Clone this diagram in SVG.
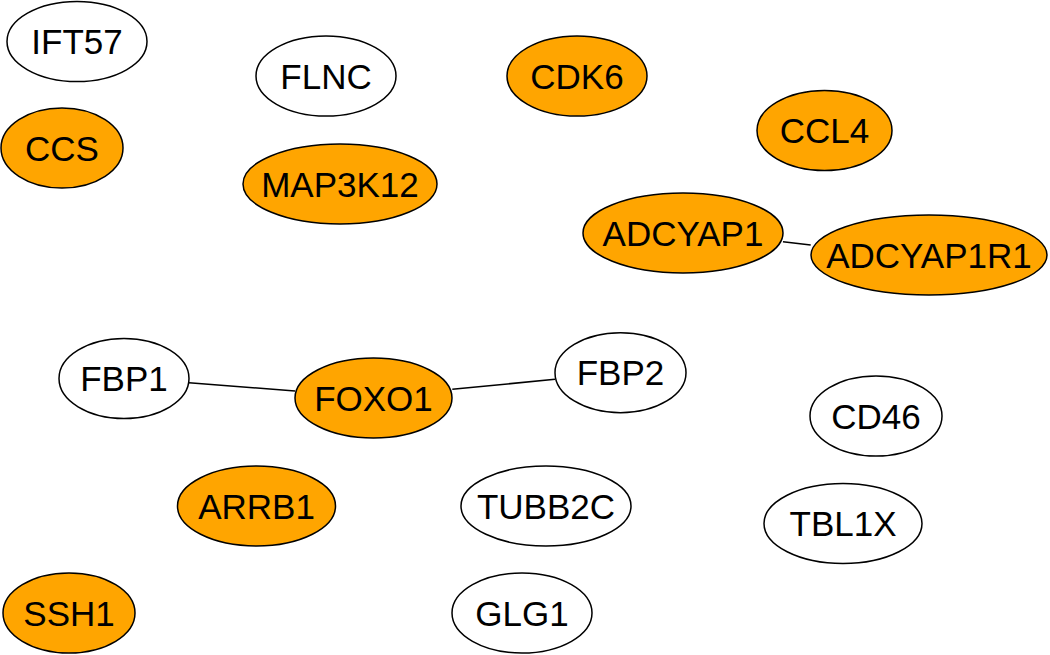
<svg xmlns="http://www.w3.org/2000/svg" width="1050" height="655" viewBox="0 0 1050 655">
<style>
.n ellipse{stroke:#000;stroke-width:1.5}
.o ellipse{fill:#FFA500}
.w ellipse{fill:#fff}
.n text{font-family:"Liberation Sans",Arial,sans-serif;font-size:35px;fill:#000;text-anchor:middle}
.e line{stroke:#000;stroke-width:1.5}
</style>
<rect width="1050" height="655" fill="#fff"/>
<g id="edges" class="e">
<line x1="189" y1="382.7" x2="295" y2="391"/>
<line x1="452.3" y1="389.3" x2="555" y2="379.3"/>
<line x1="783" y1="241.7" x2="810.7" y2="245"/>
</g>
<g id="IFT57" class="n w"><ellipse cx="77" cy="41.5" rx="70" ry="40"/><text x="77" y="54">IFT57</text></g>
<g id="FLNC" class="n w"><ellipse cx="326" cy="76" rx="70" ry="40"/><text x="326" y="88.5">FLNC</text></g>
<g id="CDK6" class="n o"><ellipse cx="577" cy="76" rx="70" ry="40"/><text x="577" y="88.5">CDK6</text></g>
<g id="CCS" class="n o"><ellipse cx="62" cy="148" rx="61" ry="40"/><text x="62" y="160.5">CCS</text></g>
<g id="CCL4" class="n o"><ellipse cx="824.5" cy="130.5" rx="67.5" ry="40"/><text x="824.5" y="143">CCL4</text></g>
<g id="MAP3K12" class="n o"><ellipse cx="340" cy="184" rx="97" ry="40"/><text x="340" y="196.5">MAP3K12</text></g>
<g id="ADCYAP1" class="n o"><ellipse cx="683" cy="233" rx="100" ry="40"/><text x="683" y="245.5">ADCYAP1</text></g>
<g id="ADCYAP1R1" class="n o"><ellipse cx="929" cy="255" rx="118" ry="40"/><text x="929" y="267.5">ADCYAP1R1</text></g>
<g id="FBP1" class="n w"><ellipse cx="124" cy="378.5" rx="65" ry="40"/><text x="124" y="391">FBP1</text></g>
<g id="FOXO1" class="n o"><ellipse cx="373.5" cy="398" rx="78.5" ry="40"/><text x="373.5" y="410.5">FOXO1</text></g>
<g id="FBP2" class="n w"><ellipse cx="620.5" cy="372.7" rx="65.5" ry="40"/><text x="620.5" y="385.2">FBP2</text></g>
<g id="CD46" class="n w"><ellipse cx="876" cy="416" rx="66" ry="40"/><text x="876" y="428.5">CD46</text></g>
<g id="ARRB1" class="n o"><ellipse cx="256.5" cy="506" rx="79" ry="40"/><text x="256.5" y="518.5">ARRB1</text></g>
<g id="TUBB2C" class="n w"><ellipse cx="546" cy="506" rx="85" ry="40"/><text x="546" y="518.5">TUBB2C</text></g>
<g id="TBL1X" class="n w"><ellipse cx="843" cy="523.5" rx="79" ry="40"/><text x="843" y="536">TBL1X</text></g>
<g id="SSH1" class="n o"><ellipse cx="69" cy="613" rx="66" ry="40"/><text x="69" y="625.5">SSH1</text></g>
<g id="GLG1" class="n w"><ellipse cx="522" cy="613" rx="70" ry="40"/><text x="522" y="625.5">GLG1</text></g>
</svg>
